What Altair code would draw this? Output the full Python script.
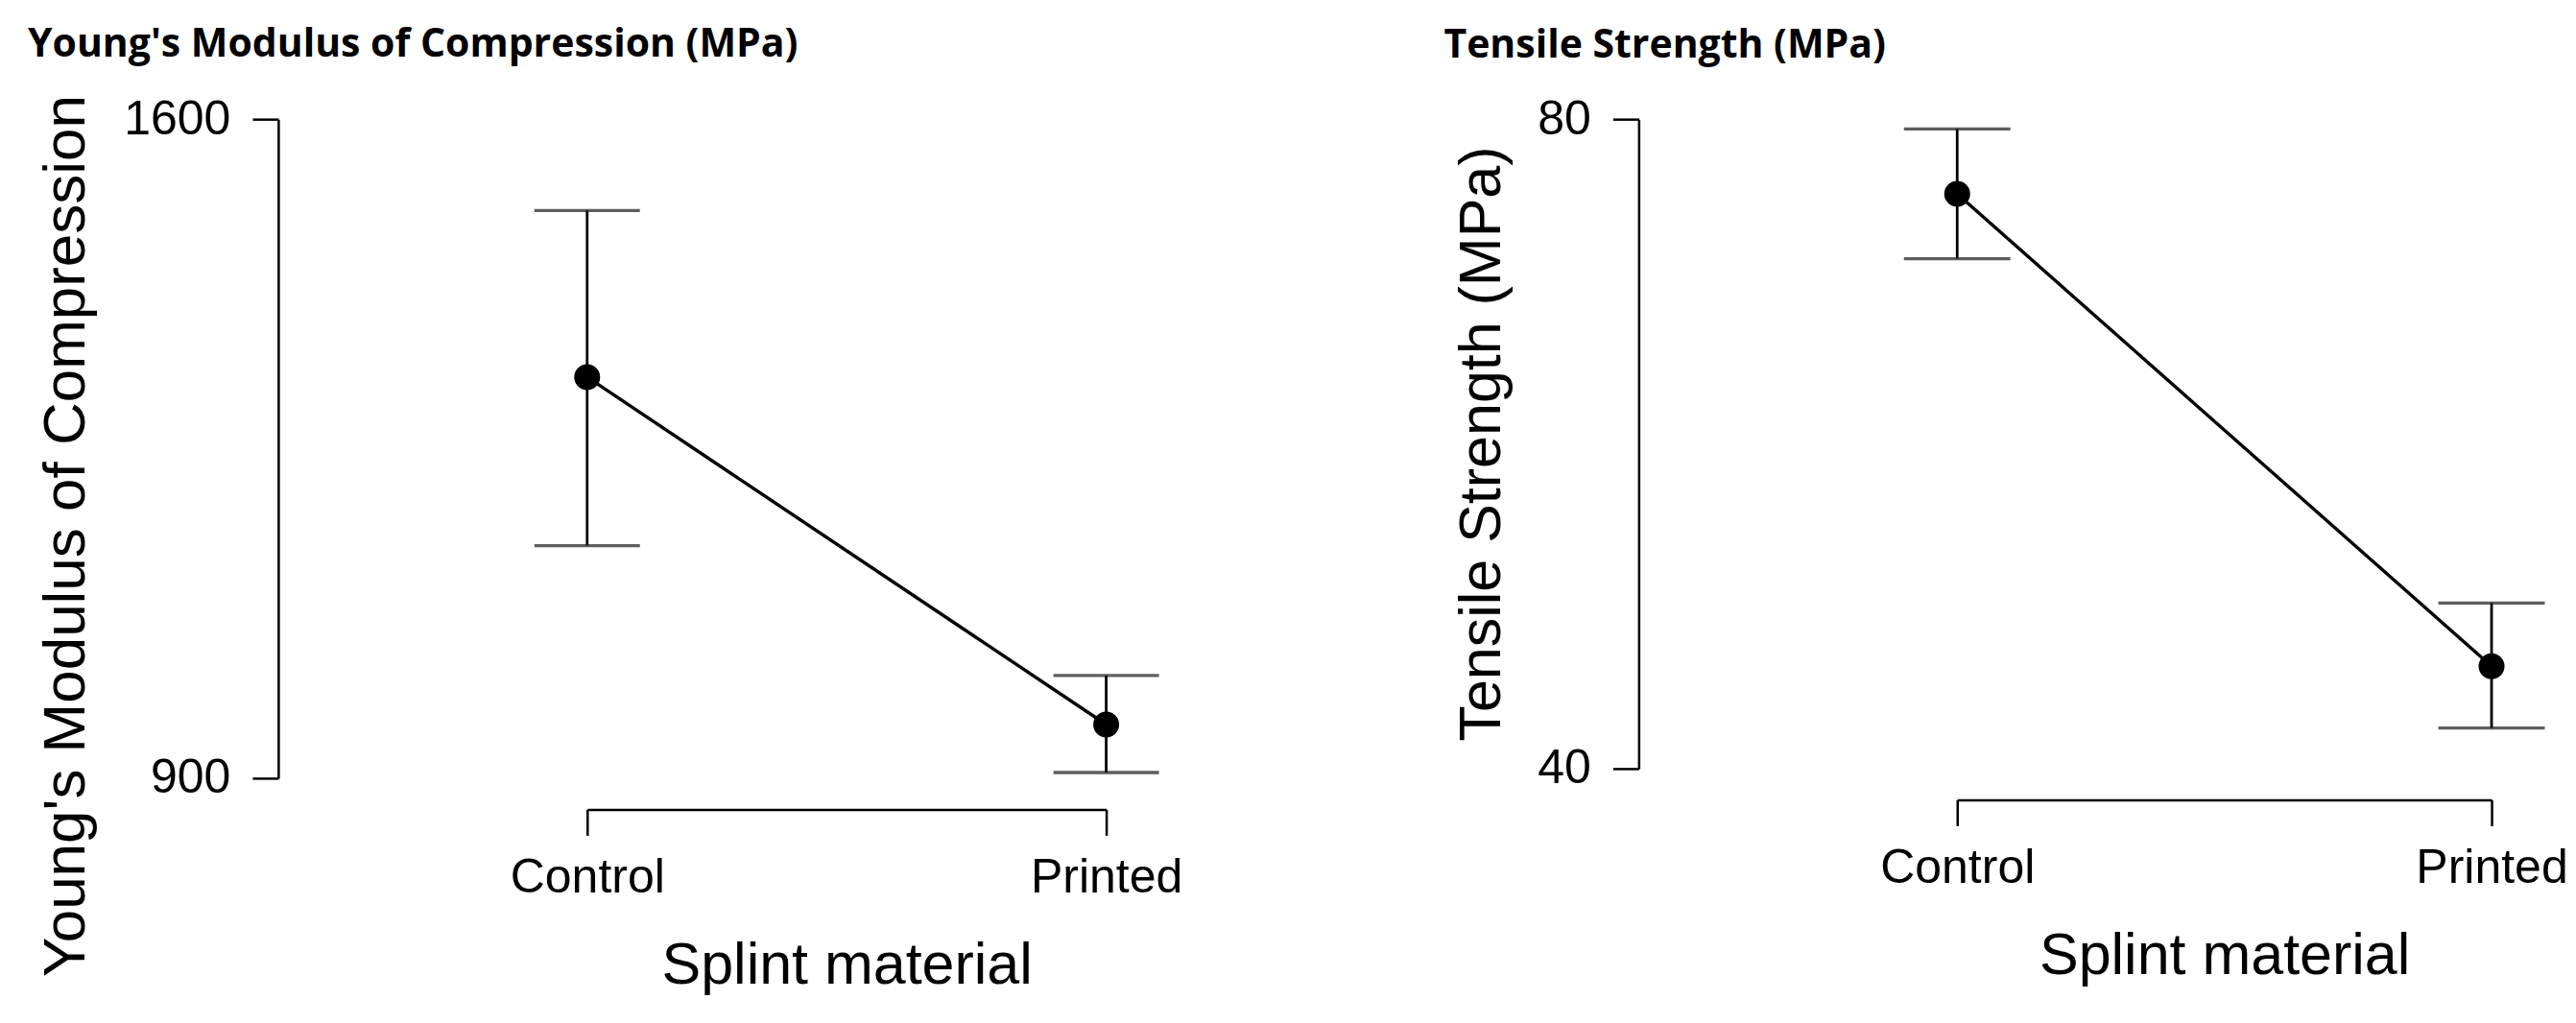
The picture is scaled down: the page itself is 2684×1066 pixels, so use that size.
import altair as alt
import pandas as pd

# ---- data ----
materials = ["Control", "Printed"]

ym_mean = [1326, 957]
ym_lower = [1147, 906]
ym_upper = [1503, 1009]

ts_mean = [75.4, 46.3]
ts_lower = [71.4, 42.5]
ts_upper = [79.4, 50.2]

ym_ticks = [900, 1600]
ts_ticks = [40, 80]

LAB_FONT = "Liberation Sans"
TITLE_FONT = "Open Sans"


def panel(mean, lower, upper, ydomain, yticks, ytitle, top_title,
          width, height, xrange, cap, title_dx, ytitle_x, ytitle_y, ytitle_size):
    df = pd.DataFrame({"material": materials, "mean": mean,
                       "lower": lower, "upper": upper})
    xenc = alt.X(
        "material:N",
        sort=materials,
        scale=alt.Scale(type="point", domain=materials, range=xrange, padding=0),
        axis=alt.Axis(
            title="Splint material", orient="bottom", offset=32.5,
            domain=True, domainColor="black", domainWidth=2.5,
            ticks=True, tickColor="black", tickWidth=2.5, tickSize=27,
            labelFont=LAB_FONT, labelFontSize=50, labelColor="black",
            labelPadding=19, labelAngle=0,
            titleFont=LAB_FONT, titleFontSize=61, titleFontWeight="normal",
            titleColor="black", titleBaseline="alphabetic", titleY=181,
            grid=False,
        ),
    )

    def yenc(field):
        return alt.Y(
            field + ":Q",
            scale=alt.Scale(domain=ydomain, nice=False, zero=False),
            axis=alt.Axis(
                title=ytitle, values=yticks, format="d",
                domain=True, domainColor="black", domainWidth=2.5,
                ticks=True, tickColor="black", tickWidth=2.5, tickSize=27,
                labelFont=LAB_FONT, labelFontSize=50, labelColor="black",
                labelPadding=23,
                titleFont=LAB_FONT, titleFontSize=ytitle_size,
                titleFontWeight="normal",
                titleColor="black", titleAngle=270, titleBaseline="alphabetic",
                titleAlign="center", titleX=ytitle_x, titleY=ytitle_y,
                grid=False,
            ),
        )

    base = alt.Chart(df)
    stem = base.mark_rule(color="black", strokeWidth=2.8).encode(
        x=xenc, y=yenc("lower"), y2="upper:Q")
    cap_hi = base.mark_tick(color="#1a1a1a", size=cap, thickness=3.3).encode(
        x=xenc, y=yenc("upper"))
    cap_lo = base.mark_tick(color="#1a1a1a", size=cap, thickness=3.3).encode(
        x=xenc, y=yenc("lower"))
    line = base.mark_line(color="black", strokeWidth=3.4).encode(
        x=xenc, y=yenc("mean"))
    dots = base.mark_circle(color="black", opacity=1, size=730).encode(
        x=xenc, y=yenc("mean"))

    return alt.layer(stem, cap_hi, cap_lo, line, dots).properties(
        width=width, height=height,
        title=alt.TitleParams(
            text=top_title, anchor="start", frame="group", dx=title_dx,
            font=TITLE_FONT, fontSize=41, fontWeight="bold", color="black",
            baseline="alphabetic", offset=-2,
        ),
    )


left = panel(ym_mean, ym_lower, ym_upper, [900, 1600], ym_ticks,
             "Young's Modulus of Compression",
             "Young's Modulus of Compression (MPa)",
             1000, 687, [322, 863], 110, -261, -202, 434, 62)

right = panel(ts_mean, ts_lower, ts_upper, [40, 80], ts_ticks,
              "Tensile Strength (MPa)",
              "Tensile Strength (MPa)",
              940, 677, [332, 889], 111, -203, -145, 338, 61)

chart = alt.hconcat(left, right, spacing=215).properties(
    padding={"left": 21, "top": 18, "right": 0, "bottom": 0},
    background="white",
).configure_view(strokeWidth=0)

chart.save("out.html", embed_options={"renderer": "svg", "actions": False})
